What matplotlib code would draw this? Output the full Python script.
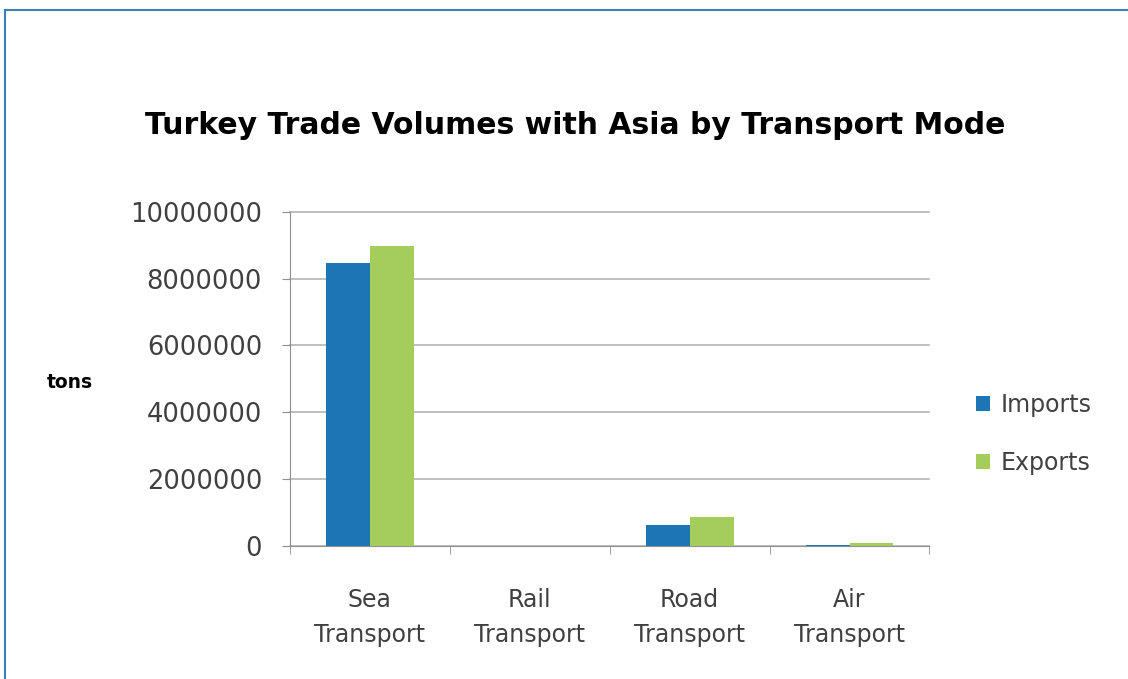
import matplotlib.pyplot as plt
import numpy as np

# trade volumes in tons
modes = ['Sea\nTransport', 'Rail\nTransport', 'Road\nTransport', 'Air\nTransport']
imports = [8480000, 0, 630000, 20000]
exports = [8970000, 0, 870000, 90000]
yticks = [0, 2000000, 4000000, 6000000, 8000000, 10000000]

blue = '#1c75b5'
green = '#a4cd5b'
txt = '#404040'

fig = plt.figure(figsize=(11.28, 6.79), dpi=100)
ax = fig.add_axes([0.257, 0.196, 0.567, 0.492])

x = np.arange(len(modes))
w = 0.275
ax.bar(x - w / 2, imports, w, color=blue, label='Imports', zorder=3)
ax.bar(x + w / 2, exports, w, color=green, label='Exports', zorder=3)

ax.set_xlim(-0.5, len(modes) - 0.5)
ax.set_ylim(0, 10000000)
ax.set_yticks(yticks)
ax.set_yticklabels([str(v) for v in yticks], fontsize=18.5, color=txt)
ax.yaxis.grid(True, color='#b4b4b4', linewidth=1.2, zorder=0)
for gl in ax.get_ygridlines():
    gl.set_clip_on(False)

# category labels centred, tick marks between categories
ax.set_xticks(x)
ax.set_xticklabels(modes, fontsize=17, color=txt, linespacing=1.6)
ax.tick_params(axis='x', length=0, pad=30)
ax.set_xticks(np.arange(len(modes) + 1) - 0.5, minor=True)
ax.tick_params(axis='x', which='minor', length=6, color='#909090')
ax.tick_params(axis='y', length=6, color='#909090', pad=14)

for s in ['top', 'right']:
    ax.spines[s].set_visible(False)
ax.spines['left'].set_color('#909090')
ax.spines['bottom'].set_color('#909090')

fig.text(0.51, 0.815, 'Turkey Trade Volumes with Asia by Transport Mode',
         ha='center', va='center', fontsize=21.5, fontweight='bold', color='black')
fig.text(0.062, 0.436, 'tons', ha='center', va='center', fontsize=13.5,
         fontweight='bold', color='black')

ax.legend(loc='center left', bbox_to_anchor=(1.04, 0.335), frameon=False,
          fontsize=17, labelcolor=txt, handlelength=0.6, handleheight=0.6,
          labelspacing=1.45, handletextpad=0.45)

# blue frame along top and left edges
fig.add_artist(plt.Line2D([0.004, 1.0], [0.985, 0.985], color='#3a7fb5', linewidth=1.5))
fig.add_artist(plt.Line2D([0.004, 0.004], [0.0, 0.985], color='#3a7fb5', linewidth=1.5))

fig.savefig('out.png', dpi=100)
